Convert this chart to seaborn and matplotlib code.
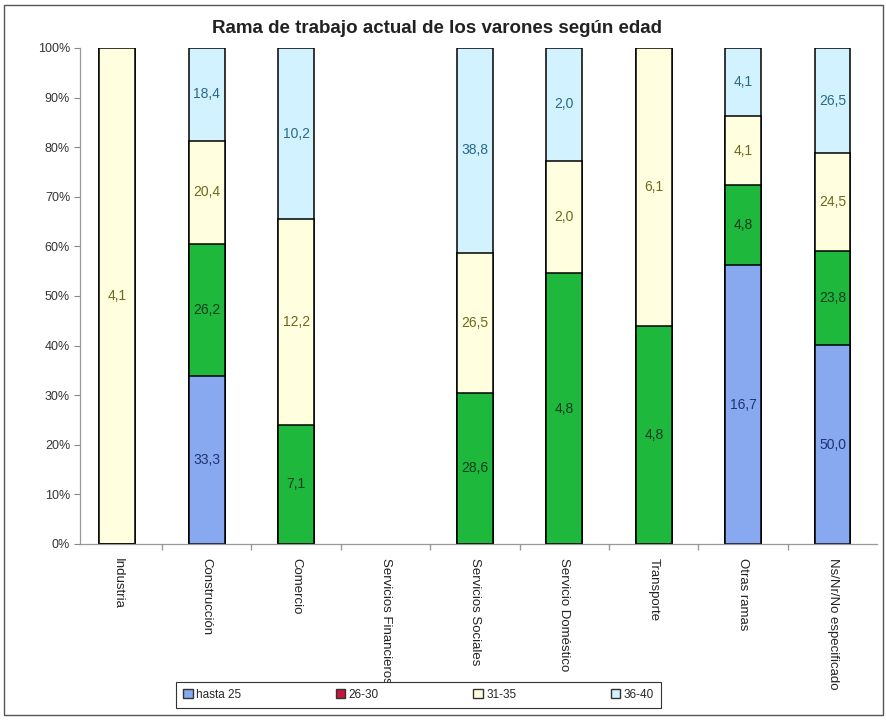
import numpy as np
import pandas as pd
import matplotlib
matplotlib.use('Agg')
import matplotlib.pyplot as plt
from matplotlib.patches import Patch, Rectangle
from matplotlib.ticker import FuncFormatter
import seaborn as sns

# ── Data (values written on the segments) ─────────────────────────────────
categories = ['Industria', 'Construcción', 'Comercio', 'Servicios Financieros',
              'Servicios Sociales', 'Servicio Doméstico', 'Transporte',
              'Otras ramas', 'Ns/Nr/No especificado']
series = ['hasta 25', '26-30', '31-35', '36-40']
hasta_25 = [0, 33.3, 0, 0, 0, 0, 0, 16.7, 50.0]
edad_26_30 = [0, 26.2, 7.1, 0, 28.6, 4.8, 4.8, 4.8, 23.8]
edad_31_35 = [4.1, 20.4, 12.2, 0, 26.5, 2.0, 6.1, 4.1, 24.5]
edad_36_40 = [0, 18.4, 10.2, 0, 38.8, 2.0, 0, 4.1, 26.5]

# ── Styling ───────────────────────────────────────────────────────────────
sns.set_theme(style='white')
plt.rcParams['font.family'] = ['Liberation Sans', 'DejaVu Sans']

BAR_COLORS = ['#88A8F0', '#1DB83C', '#FFFFE0', '#D2F2FF']
LEGEND_COLORS = ['#88A8F0', '#C8143C', '#FFFFE0', '#D2F2FF']
TEXT_COLORS = ['#1F3470', '#123C22', '#6A6A1C', '#2A6A86']

df = pd.DataFrame({'hasta 25': hasta_25, '26-30': edad_26_30,
                   '31-35': edad_31_35, '36-40': edad_36_40}, index=categories)
pct = df.div(df.sum(axis=1).replace(0, np.nan), axis=0) * 100
cum = pct.cumsum(axis=1)

fig = plt.figure(figsize=(8.87, 7.21), dpi=100)
ax = fig.add_axes([0.090, 0.2455, 0.899, 0.688])

# stacked bars: draw cumulative totals from the top layer down
for i in range(len(series) - 1, -1, -1):
    sns.barplot(x=categories, y=cum.iloc[:, i].values, order=categories,
                color=BAR_COLORS[i], saturation=1, width=0.4, errorbar=None,
                edgecolor='black', linewidth=1.1, ax=ax)

# segment labels
for i, s in enumerate(series):
    prev = cum.iloc[:, i - 1] if i > 0 else pd.Series(0, index=categories)
    for j, cat in enumerate(categories):
        v = df.loc[cat, s]
        if v > 0:
            y = prev[cat] + pct.loc[cat, s] / 2
            ax.text(j, y, f'{v:.1f}'.replace('.', ','), ha='center', va='center',
                    fontsize=10, color=TEXT_COLORS[i])

ax.set_xlim(-0.42, 8.5)
ax.set_ylim(0, 100)
ax.set_yticks(np.arange(0, 101, 10))
ax.yaxis.set_major_formatter(FuncFormatter(lambda v, p: f'{int(v)}%'))
ax.tick_params(axis='y', left=True, length=4, width=0.8, color='#888888',
               labelsize=9, labelcolor='#333333', pad=3)
ax.set_xticks(range(len(categories)))
ax.set_xticklabels(categories, rotation=270, ha='center', va='top',
                   fontsize=9.5, color='#222222')
ax.set_xticks(np.arange(0.5, 8.5, 1), minor=True)
ax.tick_params(axis='x', which='major', length=0, pad=10)
ax.tick_params(axis='x', which='minor', bottom=True, length=4, color='#999999')
for side in ['top', 'right']:
    ax.spines[side].set_visible(False)
for side in ['left', 'bottom']:
    ax.spines[side].set_color('#999999')
    ax.spines[side].set_linewidth(0.9)
ax.set_xlabel('')
ax.set_ylabel('')

fig.text(0.493, 0.961, 'Rama de trabajo actual de los varones según edad',
         ha='center', va='center', fontsize=13.5, fontweight='bold', color='#222222')

handles = [Patch(facecolor=c, edgecolor='#333333', linewidth=1) for c in LEGEND_COLORS]
leg = fig.legend(handles, series, loc='center', bbox_to_anchor=(0.472, 0.036),
                 ncol=4, fontsize=8.5, frameon=True, fancybox=False, framealpha=1,
                 handlelength=0.8, handleheight=0.8, handletextpad=0.3,
                 columnspacing=8.0, borderpad=0.6)
leg.get_frame().set_edgecolor('#333333')
leg.get_frame().set_linewidth(0.8)
leg.set_zorder(10)

fig.add_artist(Rectangle((0.005, 0.008), 0.99, 0.985, transform=fig.transFigure,
                         fill=False, edgecolor='#555555', linewidth=1.0))

fig.savefig('out.png', dpi=100)
plt.close()
